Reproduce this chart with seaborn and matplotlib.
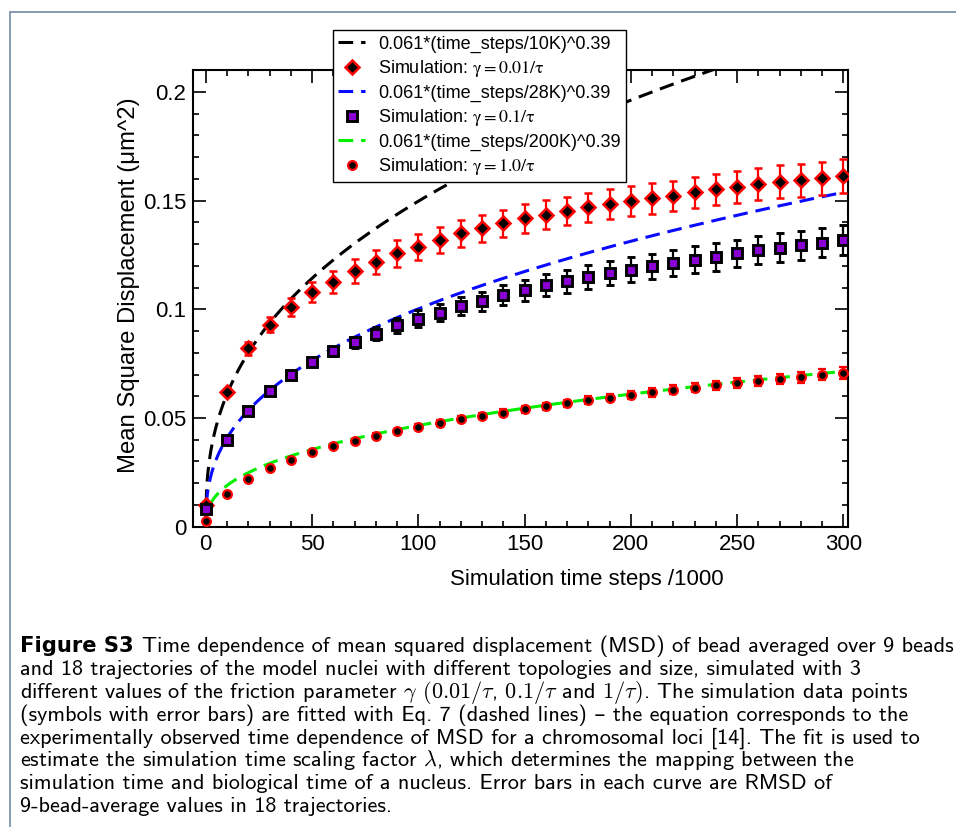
import numpy as np
import pandas as pd
import matplotlib
matplotlib.use("Agg")
import matplotlib.pyplot as plt
import seaborn as sns
from matplotlib.lines import Line2D
from matplotlib.ticker import MultipleLocator, FixedLocator, FixedFormatter

# ---------------- data ----------------
steps = [0, 10, 20, 30, 40, 50, 60, 70, 80, 90, 100, 110, 120, 130, 140, 150,
         160, 170, 180, 190, 200, 210, 220, 230, 240, 250, 260, 270, 280, 290, 300]

msd_g001 = [0.010, 0.062, 0.082, 0.093, 0.101, 0.108, 0.1126, 0.1177, 0.1218, 0.1257,
            0.1287, 0.1321, 0.1349, 0.1372, 0.1397, 0.1418, 0.1436, 0.1452, 0.1469,
            0.1484, 0.1499, 0.1510, 0.1522, 0.1538, 0.1552, 0.1564, 0.1576, 0.1587,
            0.1594, 0.1602, 0.1613]
err_g001 = [0.0005, 0.0015, 0.003, 0.0035, 0.004, 0.0045, 0.005, 0.0055, 0.0055, 0.006,
            0.006, 0.006, 0.006, 0.0062, 0.0062, 0.0065, 0.0065, 0.0065, 0.0068, 0.0068,
            0.007, 0.007, 0.007, 0.0072, 0.0072, 0.0074, 0.0074, 0.0075, 0.0076, 0.0077,
            0.0078]

msd_g01 = [0.008, 0.040, 0.0531, 0.0624, 0.0696, 0.0757, 0.0806, 0.0849, 0.0888, 0.0926,
           0.0957, 0.0985, 0.1014, 0.1038, 0.1065, 0.1088, 0.1111, 0.1129, 0.1149, 0.1167,
           0.1183, 0.1198, 0.1213, 0.1229, 0.1241, 0.1257, 0.1272, 0.1284, 0.1295, 0.1307,
           0.1318]
err_g01 = [0.0003, 0.0008, 0.001, 0.0012, 0.0015, 0.0018, 0.002, 0.0025, 0.003, 0.0035,
           0.004, 0.004, 0.0042, 0.0044, 0.0046, 0.0048, 0.005, 0.0052, 0.0054, 0.0055,
           0.0057, 0.0058, 0.006, 0.0062, 0.0063, 0.0064, 0.0065, 0.0066, 0.0067, 0.0068,
           0.007]

msd_g1 = [0.0028, 0.0151, 0.0220, 0.0271, 0.0309, 0.0343, 0.0370, 0.0395, 0.0418, 0.0439,
          0.0459, 0.0476, 0.0495, 0.0510, 0.0525, 0.0540, 0.0553, 0.0568, 0.0582, 0.0594,
          0.0607, 0.0618, 0.0630, 0.0639, 0.0650, 0.0660, 0.0670, 0.0679, 0.0688, 0.0699,
          0.0706]
err_g1 = [0.0002, 0.0005, 0.0006, 0.0007, 0.0008, 0.0009, 0.001, 0.001, 0.0011, 0.0012,
          0.0012, 0.0013, 0.0014, 0.0014, 0.0015, 0.0016, 0.0016, 0.0017, 0.0018, 0.0018,
          0.0019, 0.002, 0.002, 0.0021, 0.0022, 0.0022, 0.0023, 0.0024, 0.0025, 0.0026,
          0.0028]

# fit curves as given in the legend: 0.061*(time_steps/T)^0.39, T in thousands
fit_prefactor = 0.061
fit_exponent = 0.39
fit_scales = [10, 28, 200]
fit_labels = ["0.061*(time_steps/10K)^0.39",
              "0.061*(time_steps/28K)^0.39",
              "0.061*(time_steps/200K)^0.39"]
sim_labels = [r"Simulation: $\mathrm{\gamma = 0.01/\tau}$",
              r"Simulation: $\mathrm{\gamma = 0.1/\tau}$",
              r"Simulation: $\mathrm{\gamma = 1.0/\tau}$"]

x_ticks = [0, 50, 100, 150, 200, 250, 300]
x_ticklabels = ["0", "50", "100", "150", "200", "250", "300"]
y_ticks = [0, 0.05, 0.1, 0.15, 0.2]
y_ticklabels = ["0", "0.05", "0.1", "0.15", "0.2"]

xlabel = "Simulation time steps /1000"
ylabel = "Mean Square Displacement (\u03bcm^2)"

caption_head = "Figure S3"
caption_lines = [
    "Time dependence of mean squared displacement (MSD) of bead averaged over 9 beads",
    "and 18 trajectories of the model nuclei with different topologies and size, simulated with 3",
    r"different values of the friction parameter $\gamma$ $(0.01/\tau$, $0.1/\tau$ and $1/\tau)$. The simulation data points",
    "(symbols with error bars) are fitted with Eq. 7 (dashed lines) \u2013 the equation corresponds to the",
    "experimentally observed time dependence of MSD for a chromosomal loci [14]. The fit is used to",
    r"estimate the simulation time scaling factor $\lambda$, which determines the mapping between the",
    "simulation time and biological time of a nucleus. Error bars in each curve are RMSD of",
    "9-bead-average values in 18 trajectories.",
]

# ---------------- styling ----------------
fit_colors = ["black", "#0a0aff", "#00ee00"]
sim_styles = [
    dict(marker="D", ms=7.5, mfc="black", mec="red", mew=1.8, ecolor="red"),
    dict(marker="s", ms=6.6, mfc="#8a00d4", mec="black", mew=2.1, ecolor="black"),
    dict(marker="o", ms=6.3, mfc="black", mec="red", mew=1.6, ecolor="red"),
]

sns.set_theme(style="ticks", rc={
    "axes.edgecolor": "black", "axes.linewidth": 1.5,
    "xtick.color": "black", "ytick.color": "black",
    "text.color": "black", "axes.labelcolor": "black",
})
plt.rcParams["font.family"] = ["Liberation Sans", "DejaVu Sans"]
plt.rcParams["mathtext.fontset"] = "stix"

fig = plt.figure(figsize=(9.56, 8.27), dpi=100)
ax = fig.add_axes([193 / 956, 1 - 526.7 / 827, (848 - 193) / 956, (526.7 - 70) / 827])

# fit lines
xs = np.linspace(0, 300, 901)
for T, col, lab in zip(fit_scales, fit_colors, fit_labels):
    df = pd.DataFrame({"t": xs, "msd": fit_prefactor * (xs / T) ** fit_exponent})
    sns.lineplot(data=df, x="t", y="msd", ax=ax, color=col, linewidth=2.2,
                 linestyle=(0, (4.8, 2.6)), zorder=2, legend=False)

# simulation points with error bars
for y, e, st in zip([msd_g001, msd_g01, msd_g1], [err_g001, err_g01, err_g1], sim_styles):
    ax.errorbar(steps, y, yerr=e, fmt=st["marker"], ms=st["ms"], mfc=st["mfc"],
                mec=st["mec"], mew=st["mew"], ecolor=st["ecolor"], elinewidth=1.6,
                capsize=3.0, capthick=1.6, zorder=3)

ax.set_xlim(-6, 302.2)
ax.set_ylim(0, 0.2101)
ax.xaxis.set_major_locator(FixedLocator(x_ticks))
ax.xaxis.set_major_formatter(FixedFormatter(x_ticklabels))
ax.yaxis.set_major_locator(FixedLocator(y_ticks))
ax.yaxis.set_major_formatter(FixedFormatter(y_ticklabels))
ax.xaxis.set_minor_locator(MultipleLocator(10))
ax.yaxis.set_minor_locator(MultipleLocator(0.01))
ax.tick_params(which="both", direction="in", top=True, right=True, width=1.2,
               labelsize=16, pad=5)
ax.tick_params(which="major", length=9.5)
ax.tick_params(which="minor", length=4.5)

ax.set_xlabel(xlabel, fontsize=16)
ax.set_ylabel(ylabel, fontsize=17.2)
ax.xaxis.set_label_coords(0.6015, -0.092)
ax.yaxis.set_label_coords(-0.081, 0.529)

# legend
handles = []
labels = []
for i in range(3):
    handles.append(Line2D([], [], color=fit_colors[i], lw=2.2, linestyle=(0, (4.8, 2.6))))
    labels.append(fit_labels[i])
    st = sim_styles[i]
    handles.append(Line2D([], [], linestyle="none", marker=st["marker"], ms=st["ms"],
                          mfc=st["mfc"], mec=st["mec"], mew=st["mew"]))
    labels.append(sim_labels[i])
leg = ax.legend(handles, labels, loc="upper left", bbox_to_anchor=(333 / 956, 1 - 30 / 827),
                bbox_transform=fig.transFigure, borderaxespad=0, fontsize=13,
                frameon=True, fancybox=False, framealpha=1, edgecolor="black",
                handlelength=1.45, handletextpad=0.75, labelspacing=0.3, borderpad=0.3)
leg.get_frame().set_linewidth(1.0)
leg.set_zorder(10)

# figure frame (top and left rule)
frame_col = "#7d93ad"
fig.add_artist(Line2D([10 / 956, 10 / 956], [0, 1 - 12 / 827], transform=fig.transFigure,
                      color=frame_col, lw=1.3))
fig.add_artist(Line2D([10 / 956, 1], [1 - 12 / 827, 1 - 12 / 827], transform=fig.transFigure,
                      color=frame_col, lw=1.3))

# caption
cap_fs = 16.0
cap_family = ["cmss10", "DejaVu Sans"]
base_y = 652
spacing = 22.9
head = fig.text(20 / 956, 1 - base_y / 827, caption_head, fontsize=cap_fs - 0.8, fontweight="bold",
                family=["DejaVu Sans"], va="baseline", ha="left")
fig.canvas.draw()
bb = head.get_window_extent()
x_after = (bb.x1 + 8) / 956
for i, line in enumerate(caption_lines):
    xx = x_after if i == 0 else 20 / 956
    fig.text(xx, 1 - (base_y + i * spacing) / 827, line, fontsize=cap_fs, family=cap_family,
             math_fontfamily="cm", va="baseline", ha="left")

fig.savefig("out.png", dpi=100)
